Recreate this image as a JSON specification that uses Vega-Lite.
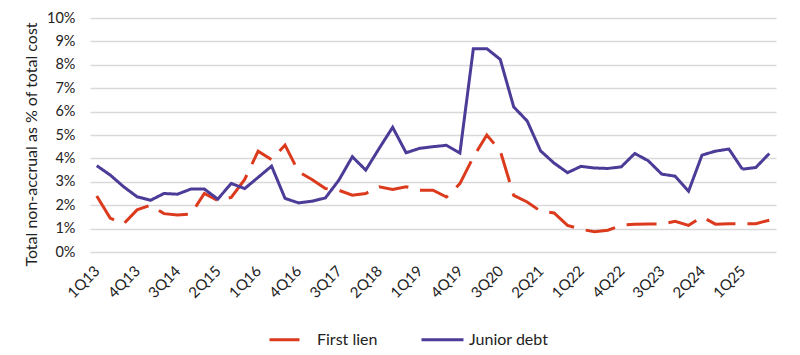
{
  "$schema": "https://vega.github.io/schema/vega-lite/v6.json",
  "width": 686,
  "height": 234,
  "autosize": {"type": "none"},
  "padding": {"left": 90, "top": 18, "right": 24, "bottom": 103},
  "background": "white",
  "config": {
    "font": "Lato",
    "view": {"stroke": null},
    "axis": {"labelFont": "Lato", "titleFont": "Lato", "labelColor": "#222222", "titleColor": "#222222"}
  },
  "data": {
    "values": [
      {"q":"1Q13","s":"First lien","v":2.39},{"q":"2Q13","s":"First lien","v":1.45},{"q":"3Q13","s":"First lien","v":1.2},{"q":"4Q13","s":"First lien","v":1.8},
      {"q":"1Q14","s":"First lien","v":2.0},{"q":"2Q14","s":"First lien","v":1.64},{"q":"3Q14","s":"First lien","v":1.58},{"q":"4Q14","s":"First lien","v":1.62},
      {"q":"1Q15","s":"First lien","v":2.5},{"q":"2Q15","s":"First lien","v":2.2},{"q":"3Q15","s":"First lien","v":2.33},{"q":"4Q15","s":"First lien","v":3.1},
      {"q":"1Q16","s":"First lien","v":4.31},{"q":"2Q16","s":"First lien","v":3.95},{"q":"3Q16","s":"First lien","v":4.57},{"q":"4Q16","s":"First lien","v":3.43},
      {"q":"1Q17","s":"First lien","v":3.1},{"q":"2Q17","s":"First lien","v":2.71},{"q":"3Q17","s":"First lien","v":2.64},{"q":"4Q17","s":"First lien","v":2.43},
      {"q":"1Q18","s":"First lien","v":2.5},{"q":"2Q18","s":"First lien","v":2.79},{"q":"3Q18","s":"First lien","v":2.67},{"q":"4Q18","s":"First lien","v":2.79},
      {"q":"1Q19","s":"First lien","v":2.64},{"q":"2Q19","s":"First lien","v":2.64},{"q":"3Q19","s":"First lien","v":2.35},{"q":"4Q19","s":"First lien","v":2.92},
      {"q":"1Q20","s":"First lien","v":4.06},{"q":"2Q20","s":"First lien","v":5.0},{"q":"3Q20","s":"First lien","v":4.32},{"q":"4Q20","s":"First lien","v":2.42},
      {"q":"1Q21","s":"First lien","v":2.14},{"q":"2Q21","s":"First lien","v":1.74},{"q":"3Q21","s":"First lien","v":1.67},{"q":"4Q21","s":"First lien","v":1.14},
      {"q":"1Q22","s":"First lien","v":0.97},{"q":"2Q22","s":"First lien","v":0.87},{"q":"3Q22","s":"First lien","v":0.93},{"q":"4Q22","s":"First lien","v":1.14},
      {"q":"1Q23","s":"First lien","v":1.19},{"q":"2Q23","s":"First lien","v":1.2},{"q":"3Q23","s":"First lien","v":1.19},{"q":"4Q23","s":"First lien","v":1.31},
      {"q":"1Q24","s":"First lien","v":1.14},{"q":"2Q24","s":"First lien","v":1.5},{"q":"3Q24","s":"First lien","v":1.19},{"q":"4Q24","s":"First lien","v":1.21},
      {"q":"1Q25","s":"First lien","v":1.21},{"q":"2Q25","s":"First lien","v":1.21},{"q":"3Q25","s":"First lien","v":1.36},
      {"q":"1Q13","s":"Junior debt","v":3.69},{"q":"2Q13","s":"Junior debt","v":3.29},{"q":"3Q13","s":"Junior debt","v":2.79},{"q":"4Q13","s":"Junior debt","v":2.36},
      {"q":"1Q14","s":"Junior debt","v":2.21},{"q":"2Q14","s":"Junior debt","v":2.5},{"q":"3Q14","s":"Junior debt","v":2.47},{"q":"4Q14","s":"Junior debt","v":2.69},
      {"q":"1Q15","s":"Junior debt","v":2.69},{"q":"2Q15","s":"Junior debt","v":2.26},{"q":"3Q15","s":"Junior debt","v":2.93},{"q":"4Q15","s":"Junior debt","v":2.71},
      {"q":"1Q16","s":"Junior debt","v":3.19},{"q":"2Q16","s":"Junior debt","v":3.67},{"q":"3Q16","s":"Junior debt","v":2.29},{"q":"4Q16","s":"Junior debt","v":2.1},
      {"q":"1Q17","s":"Junior debt","v":2.17},{"q":"2Q17","s":"Junior debt","v":2.31},{"q":"3Q17","s":"Junior debt","v":3.07},{"q":"4Q17","s":"Junior debt","v":4.07},
      {"q":"1Q18","s":"Junior debt","v":3.5},{"q":"2Q18","s":"Junior debt","v":4.43},{"q":"3Q18","s":"Junior debt","v":5.33},{"q":"4Q18","s":"Junior debt","v":4.24},
      {"q":"1Q19","s":"Junior debt","v":4.43},{"q":"2Q19","s":"Junior debt","v":4.5},{"q":"3Q19","s":"Junior debt","v":4.56},{"q":"4Q19","s":"Junior debt","v":4.23},
      {"q":"1Q20","s":"Junior debt","v":8.69},{"q":"2Q20","s":"Junior debt","v":8.69},{"q":"3Q20","s":"Junior debt","v":8.23},{"q":"4Q20","s":"Junior debt","v":6.2},
      {"q":"1Q21","s":"Junior debt","v":5.6},{"q":"2Q21","s":"Junior debt","v":4.32},{"q":"3Q21","s":"Junior debt","v":3.8},{"q":"4Q21","s":"Junior debt","v":3.39},
      {"q":"1Q22","s":"Junior debt","v":3.66},{"q":"2Q22","s":"Junior debt","v":3.59},{"q":"3Q22","s":"Junior debt","v":3.57},{"q":"4Q22","s":"Junior debt","v":3.64},
      {"q":"1Q23","s":"Junior debt","v":4.21},{"q":"2Q23","s":"Junior debt","v":3.9},{"q":"3Q23","s":"Junior debt","v":3.33},{"q":"4Q23","s":"Junior debt","v":3.24},
      {"q":"1Q24","s":"Junior debt","v":2.6},{"q":"2Q24","s":"Junior debt","v":4.14},{"q":"3Q24","s":"Junior debt","v":4.31},{"q":"4Q24","s":"Junior debt","v":4.4},
      {"q":"1Q25","s":"Junior debt","v":3.54},{"q":"2Q25","s":"Junior debt","v":3.61},{"q":"3Q25","s":"Junior debt","v":4.21}
    ]
  },
  "mark": {"type": "line", "strokeWidth": 3, "strokeCap": "butt", "strokeJoin": "miter"},
  "encoding": {
    "x": {
      "field": "q", "type": "ordinal", "sort": null,
      "scale": {"type": "point", "padding": 0.5},
      "axis": {
        "title": null,
        "values": ["1Q13","4Q13","3Q14","2Q15","1Q16","4Q16","3Q17","2Q18","1Q19","4Q19","3Q20","2Q21","1Q22","4Q22","3Q23","2Q24","1Q25"],
        "labelAngle": -45, "labelAlign": "right", "labelBaseline": "middle",
        "labelFontSize": 15, "labelPadding": 16,
        "domain": false, "ticks": false, "grid": false
      }
    },
    "y": {
      "field": "v", "type": "quantitative",
      "scale": {"domain": [0, 10], "nice": false},
      "axis": {
        "title": "Total non-accrual as % of total cost",
        "titleFontSize": 16, "titleFontWeight": "normal", "titlePadding": 7, "titleY": 126,
        "values": [0,1,2,3,4,5,6,7,8,9,10],
        "labelExpr": "datum.value + '%'",
        "labelFontSize": 14.5, "labelPadding": 15,
        "domain": false, "ticks": false,
        "grid": true, "gridColor": "#d9d9d9", "gridWidth": 1.5
      }
    },
    "color": {
      "field": "s", "type": "nominal",
      "scale": {"domain": ["First lien", "Junior debt"], "range": ["#dc3a1d", "#4d3b98"]},
      "legend": {
        "title": null, "orient": "none", "direction": "horizontal",
        "legendX": 178, "legendY": 299,
        "symbolType": "stroke", "symbolSize": 1764, "symbolStrokeWidth": 3,
        "labelFontSize": 16, "labelColor": "#222222", "labelFont": "Lato",
        "labelOffset": 4, "columnPadding": 37
      }
    },
    "strokeDash": {
      "field": "s", "type": "nominal",
      "scale": {"domain": ["First lien", "Junior debt"], "range": [[30, 12], [1, 0]]},
      "legend": null
    }
  }
}
